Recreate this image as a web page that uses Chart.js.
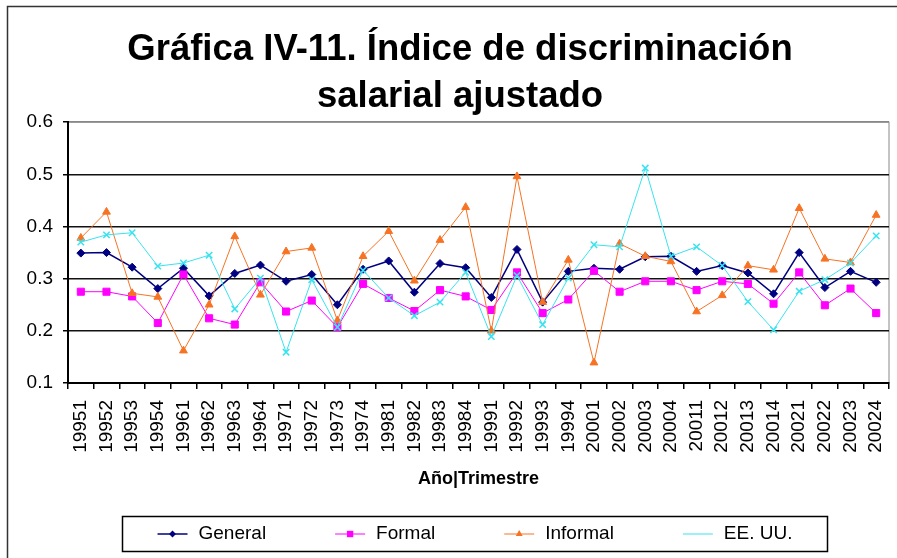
<!DOCTYPE html>
<html>
<head>
<meta charset="utf-8">
<script src="https://cdn.jsdelivr.net/npm/chart.js"></script>
<style>
  body { margin: 0; background: #fff; }
  #wrap { width: 897px; height: 558px; position: relative; }
</style>
</head>
<body>
<div id="wrap"><canvas id="grafica"></canvas></div>
<script>
const categorias = [
  '19951', '19952', '19953', '19954', '19961', '19962', '19963', '19964',
  '19971', '19972', '19973', '19974', '19981', '19982', '19983', '19984',
  '19991', '19992', '19993', '19994', '20001', '20002', '20003', '20004',
  '20011', '20012', '20013', '20014', '20021', '20022', '20023', '20024'
];
const general = [0.349, 0.350, 0.322, 0.281, 0.320, 0.267, 0.310, 0.326, 0.295, 0.308, 0.250, 0.318, 0.334, 0.274, 0.329, 0.321,
                 0.264, 0.356, 0.255, 0.314, 0.320, 0.318, 0.342, 0.343, 0.314, 0.325, 0.311, 0.271, 0.350, 0.283, 0.314, 0.293];
const formal = [0.275, 0.275, 0.266, 0.215, 0.308, 0.224, 0.212, 0.293, 0.237, 0.258, 0.207, 0.290, 0.263, 0.238, 0.278, 0.266,
                0.240, 0.312, 0.234, 0.260, 0.315, 0.275, 0.295, 0.295, 0.278, 0.295, 0.290, 0.252, 0.312, 0.249, 0.281, 0.234];
const informal = [0.378, 0.428, 0.272, 0.265, 0.162, 0.250, 0.381, 0.269, 0.352, 0.359, 0.220, 0.343, 0.391, 0.296, 0.374, 0.437,
                  0.200, 0.496, 0.255, 0.336, 0.139, 0.367, 0.343, 0.333, 0.237, 0.268, 0.325, 0.317, 0.435, 0.338, 0.331, 0.422];
const eeuu = [0.370, 0.384, 0.388, 0.324, 0.330, 0.345, 0.242, 0.301, 0.159, 0.298, 0.207, 0.316, 0.263, 0.229, 0.255, 0.312,
              0.189, 0.306, 0.212, 0.301, 0.365, 0.361, 0.512, 0.343, 0.361, 0.325, 0.256, 0.202, 0.276, 0.298, 0.330, 0.382];
const ticksY = [0.1, 0.2, 0.3, 0.4, 0.5, 0.6];

const fuente = "'Liberation Sans', Arial, sans-serif";

// marco exterior, borde del area y leyenda con caja
const marcoYLeyenda = {
  id: 'marcoYLeyenda',
  afterLayout(chart) {
    // el titulo del original esta algo corrido a la derecha
    chart.titleBlock.left += 23;
  },
  beforeDraw(chart) {
    const ctx = chart.ctx;
    const a = chart.chartArea;
    ctx.save();
    ctx.strokeStyle = '#333';
    ctx.lineWidth = 1.5;
    ctx.strokeRect(7.5, 6.5, 900, 600);
    ctx.strokeStyle = '#888';
    ctx.lineWidth = 1;
    ctx.strokeRect(a.left, a.top, a.right - a.left, a.bottom - a.top);
    ctx.restore();
  },
  afterDraw(chart) {
    const ctx = chart.ctx;
    ctx.save();
    ctx.strokeStyle = '#000';
    ctx.lineWidth = 1.5;
    ctx.strokeRect(122.5, 516.5, 705, 35);

    ctx.font = '19px ' + fuente;
    ctx.textBaseline = 'middle';
    ctx.fillStyle = '#000';
    const y = 534;
    const muestra = 30, hueco = 11, entre = 69;
    const sets = chart.data.datasets;
    let total = 0;
    sets.forEach(ds => { total += muestra + hueco + ctx.measureText(ds.label).width; });
    total += entre * (sets.length - 1);
    let x = 475 - total / 2;
    sets.forEach(ds => {
      ctx.strokeStyle = ds.borderColor;
      ctx.lineWidth = ds.borderWidth;
      ctx.beginPath();
      ctx.moveTo(x, y);
      ctx.lineTo(x + muestra, y);
      ctx.stroke();
      ctx.fillStyle = ds.pointBackgroundColor;
      ctx.strokeStyle = ds.pointBorderColor;
      ctx.lineWidth = ds.pointBorderWidth;
      Chart.helpers.drawPoint(ctx, { pointStyle: ds.pointStyle, radius: ds.pointRadius - 0.5, rotation: 0 }, x + muestra / 2, y);
      ctx.fillStyle = '#000';
      ctx.fillText(ds.label, x + muestra + hueco, y);
      x += muestra + hueco + ctx.measureText(ds.label).width + entre;
    });
    ctx.restore();
  }
};

const serie = (label, data, color, estilo, radio, ancho, orden) => ({
  label: label,
  data: data,
  borderColor: color,
  backgroundColor: color,
  borderWidth: ancho,
  pointStyle: estilo,
  pointRadius: radio,
  pointHoverRadius: radio,
  pointBackgroundColor: color,
  pointBorderColor: color,
  pointBorderWidth: estilo === 'crossRot' ? 1.5 : 1,
  tension: 0,
  fill: false,
  order: orden
});

new Chart(document.getElementById('grafica'), {
  type: 'line',
  data: {
    labels: categorias,
    datasets: [
      serie('General', general, '#000080', 'rectRot', 4, 1.5, 4),
      serie('Formal', formal, '#ff00ff', 'rect', 5, 1, 3),
      serie('Informal', informal, '#f77324', 'triangle', 4.5, 1, 2),
      serie('EE. UU.', eeuu, '#38e3ef', 'crossRot', 4.5, 1, 1)
    ]
  },
  options: {
    responsive: true,
    maintainAspectRatio: false,
    animation: false,
    layout: { padding: { left: 8, right: 8, top: 20, bottom: 68 } },
    plugins: {
      legend: { display: false },
      tooltip: { enabled: false },
      title: {
        display: true,
        text: ['Gráfica IV-11. Índice de discriminación', 'salarial ajustado'],
        color: '#000',
        font: { family: fuente, size: 36.5, weight: 'bold', lineHeight: 1.29 },
        padding: { top: 6, bottom: 2 }
      }
    },
    scales: {
      x: {
        offset: true,
        afterFit: s => { s.height = 107; s.paddingLeft = 0; s.paddingRight = 0; },
        grid: { offset: true, drawOnChartArea: false, drawTicks: true, tickLength: 6, tickColor: '#000', lineWidth: 1.5 },
        border: { color: '#000', width: 2 },
        ticks: {
          autoSkip: false, maxRotation: 90, minRotation: 90, padding: 11,
          color: '#000', font: { family: fuente, size: 19 }
        },
        title: {
          display: true, text: 'Año|Trimestre', color: '#000', padding: 0,
          font: { family: fuente, size: 18, weight: 'bold' }
        }
      },
      y: {
        min: 0.1,
        max: 0.6,
        afterFit: s => { s.width = 60; },
        afterBuildTicks: s => { s.ticks = ticksY.map(v => ({ value: v })); },
        grid: {
          color: c => (c.tick && c.tick.value > 0.55 ? '#888' : '#111'),
          lineWidth: 1.5, tickLength: 5, tickColor: '#000'
        },
        border: { color: '#000', width: 2 },
        ticks: {
          padding: 10, color: '#000', font: { family: fuente, size: 19 },
          callback: v => v.toFixed(1)
        }
      }
    }
  },
  plugins: [marcoYLeyenda]
});
</script>
</body>
</html>
